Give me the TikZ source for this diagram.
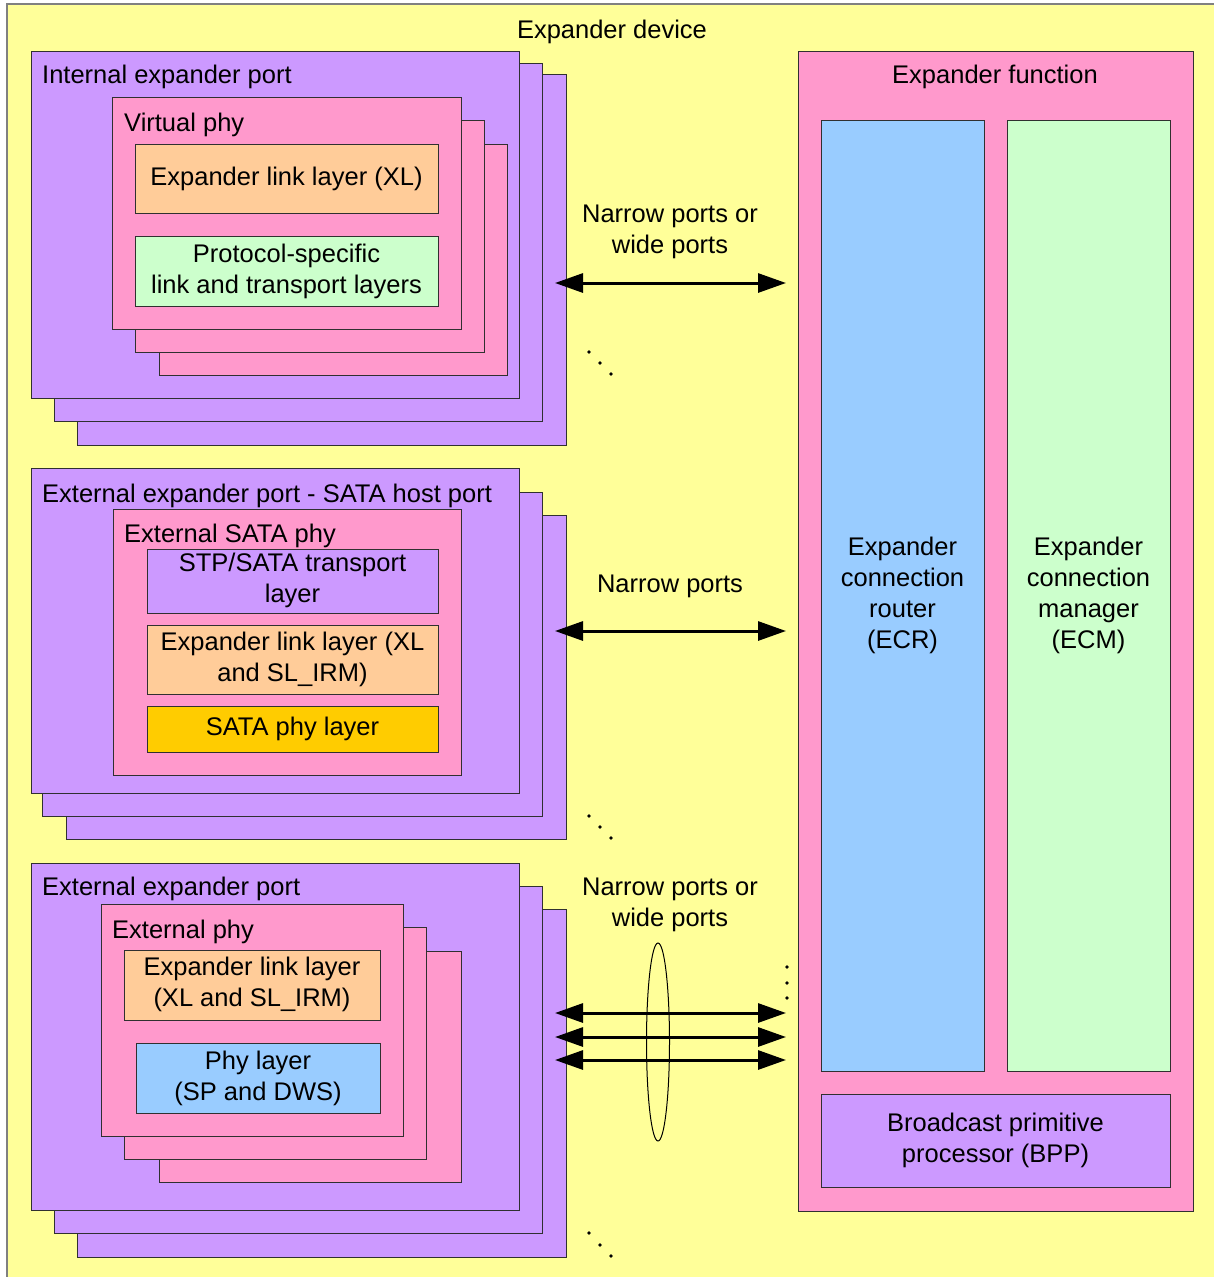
\documentclass[tikz,border=0pt]{standalone}
\usepackage{fontspec}
\setmainfont{Liberation Sans}
\usetikzlibrary{fit,arrows.meta,shapes.geometric}
\definecolor{devyellow}{HTML}{FFFF99}
\definecolor{portpurple}{HTML}{CC99FF}
\definecolor{phypink}{HTML}{FF99CC}
\definecolor{layorange}{HTML}{FFCC99}
\definecolor{laygreen}{HTML}{CCFFCC}
\definecolor{layblue}{HTML}{99CCFF}
\definecolor{laygold}{HTML}{FFCC00}
\definecolor{edgegray}{HTML}{303030}
\begin{document}
\begin{tikzpicture}[x=1pt,y=-1pt,
  font=\fontsize{25.5}{31}\selectfont,
  box/.style={draw=edgegray, line width=1pt, inner sep=0pt},
  pbox/.style={box, fill=portpurple},
  kbox/.style={box, fill=phypink},
  obox/.style={box, fill=layorange},
  gbox/.style={box, fill=laygreen},
  bbox/.style={box, fill=layblue},
  ybox/.style={box, fill=laygold},
  title/.style={anchor=base west, inner sep=0pt},
  ctitle/.style={anchor=base, inner sep=0pt},
  lbl/.style={inner sep=0pt, align=center},
  link/.style={line width=3pt, {Triangle[length=28pt,width=19pt]}-{Triangle[length=28pt,width=19pt]}},
  dotmark/.style={fill=black, circle, inner sep=0pt, minimum size=3.6pt}
]
\useasboundingbox (0,0) rectangle (1213,1277);
% device background
\fill[devyellow] (7,4) rectangle (1214,1278);
\draw[gray, line width=1.5pt] (7,1278) -- (7,4) -- (1214,4);
\node[ctitle] (devT) at (612,38) {Expander device};

% ---------- Group 1: internal expander port ----------
\node[pbox, fit={(77,74)(566,445)}] (ip3) {};
\node[pbox, fit={(54,63)(542,421)}] (ip2) {};
\node[pbox, fit={(31,51)(519,398)}] (ip1) {};
\node[title] (ipT) at (42,83) {Internal expander port};
\node[kbox, fit={(159,144)(507,375)}] (vp3) {};
\node[kbox, fit={(135,120)(484,352)}] (vp2) {};
\node[kbox, fit={(112,97)(461,329)}] (vp1) {};
\node[title] (vpT) at (124,131) {Virtual phy};
\node[obox, fit={(135,144)(438,213)}] (xl1) {};
\node[lbl] (xl1T) at (xl1.center) {Expander link layer (XL)};
\node[gbox, fit={(135,236)(438,306)}] (pst) {};
\node[lbl] (pstT) at (pst.center) {Protocol-specific\\link and transport layers};

% ---------- Group 2: external expander port - SATA host port ----------
\node[pbox, fit={(66,515)(566,839)}] (sp3) {};
\node[pbox, fit={(42,492)(542,816)}] (sp2) {};
\node[pbox, fit={(31,468)(519,793)}] (sp1) {};
\node[title] (spT) at (42,502) {External expander port - SATA host port};
\node[kbox, fit={(113,509)(461,775)}] (sphy) {};
\node[title] (sphyT) at (124,542) {External SATA phy};
\node[pbox, fit={(147,549)(438,613)}] (stp) {};
\node[lbl] (stpT) at ([yshift=1]stp.center) {STP/SATA transport\\layer};
\node[obox, fit={(147,625)(438,694)}] (xl2) {};
\node[lbl] (xl2T) at (xl2.center) {Expander link layer (XL\\and SL\_IRM)};
\node[ybox, fit={(147,706)(438,752)}] (sata) {};
\node[lbl] (sataT) at (sata.center) {SATA phy layer};

% ---------- Group 3: external expander port ----------
\node[pbox, fit={(77,909)(566,1257)}] (ep3) {};
\node[pbox, fit={(54,886)(542,1233)}] (ep2) {};
\node[pbox, fit={(31,863)(519,1210)}] (ep1) {};
\node[title] (epT) at (42,895) {External expander port};
\node[kbox, fit={(159,951)(461,1182)}] (eph3) {};
\node[kbox, fit={(124,927)(426,1159)}] (eph2) {};
\node[kbox, fit={(101,904)(403,1136)}] (eph1) {};
\node[title] (ephT) at (112,938) {External phy};
\node[obox, fit={(124,950)(380,1020)}] (xl3) {};
\node[lbl] (xl3T) at ([yshift=1]xl3.center) {Expander link layer\\(XL and SL\_IRM)};
\node[bbox, fit={(136,1043)(380,1113)}] (phy) {};
\node[lbl] (phyT) at (phy.center) {Phy layer\\(SP and DWS)};

% ---------- Expander function ----------
\node[kbox, fit={(798,51)(1193,1211)}] (ef) {};
\node[ctitle] (efT) at (995,83) {Expander function};
\node[bbox, fit={(821,120)(984,1071)}] (ecr) {};
\node[lbl] (ecrT) at (ecr.center) {Expander\\connection\\router\\(ECR)};
\node[gbox, fit={(1007,120)(1170,1071)}] (ecm) {};
\node[lbl] (ecmT) at (ecm.center) {Expander\\connection\\manager\\(ECM)};
\node[pbox, fit={(821,1094)(1170,1187)}] (bpp) {};
\node[lbl] (bppT) at (bpp.center) {Broadcast primitive\\processor (BPP)};

% ---------- connectors ----------
\node[lbl] (l1) at (670,232) {Narrow ports or\\wide ports};
\coordinate (a1L) at (555,283);
\coordinate (a1R) at (786,283);
\draw[link] (a1L) -- (a1R);

\node[ctitle] (l2) at (670,592) {Narrow ports};
\coordinate (a2L) at (555,631);
\coordinate (a2R) at (786,631);
\draw[link] (a2L) -- (a2R);

\node[lbl] (l3) at (670,905) {Narrow ports or\\wide ports};
\coordinate (a3L) at (555,1013);
\coordinate (a3R) at (786,1013);
\coordinate (a4L) at (555,1037);
\coordinate (a4R) at (786,1037);
\coordinate (a5L) at (555,1060);
\coordinate (a5R) at (786,1060);
\draw[link] (a3L) -- (a3R);
\draw[link] (a4L) -- (a4R);
\draw[link] (a5L) -- (a5R);
\node[draw=black, line width=1pt, ellipse, inner sep=0pt, minimum width=23pt, minimum height=198pt] (bundle) at (658,1042) {};

% ---------- ellipsis dots ----------
\foreach \x/\y in {589/352,600/363,611/374, 589/816,600/827,611/838, 589/1233,600/1245,611/1256, 787/967,787/983,787/998}
  \node[dotmark] at (\x,\y) {};
\end{tikzpicture}
\end{document}
